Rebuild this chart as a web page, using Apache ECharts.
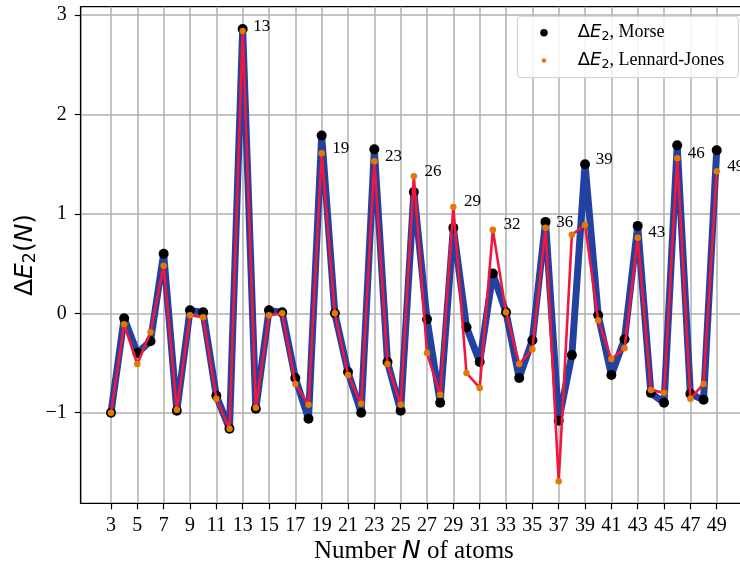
<!DOCTYPE html>
<html><head><meta charset="utf-8">
<script src="https://cdn.jsdelivr.net/npm/echarts@6/dist/echarts.min.js"></script>
<style>html,body{margin:0;padding:0;background:#fff}#c{width:740px;height:566px}</style>
</head><body><div id="c"></div><script>
const atoms = [3,4,5,6,7,8,9,10,11,12,13,14,15,16,17,18,19,20,21,22,23,24,25,26,27,28,29,30,31,32,33,34,35,36,37,38,39,40,41,42,43,44,45,46,47,48,49];
const morse = [-1.00,-0.05,-0.40,-0.28,0.60,-0.98,0.03,0.01,-0.83,-1.16,2.86,-0.96,0.03,0.01,-0.65,-1.06,1.79,0.00,-0.59,-1.00,1.65,-0.49,-0.98,1.22,-0.06,-0.90,0.86,-0.14,-0.49,0.40,0.01,-0.65,-0.27,0.92,-1.08,-0.42,1.50,-0.02,-0.62,-0.26,0.88,-0.80,-0.90,1.69,-0.81,-0.87,1.64];
const lennardJones = [-1.00,-0.11,-0.51,-0.19,0.48,-0.97,-0.02,-0.04,-0.86,-1.16,2.84,-0.95,-0.02,0.00,-0.71,-0.92,1.61,0.00,-0.62,-0.91,1.53,-0.51,-0.92,1.38,-0.40,-0.82,1.07,-0.60,-0.75,0.84,0.01,-0.51,-0.36,0.86,-1.69,0.79,0.89,-0.07,-0.46,-0.35,0.76,-0.77,-0.80,1.56,-0.86,-0.71,1.43];
const peakAtomsLJ = [13,19,23,26,29,32,36,43,46,49];
const peakAtomsMorse = [39];
const xTicks = [3,5,7,9,11,13,15,17,19,21,23,25,27,29,31,33,35,37,39,41,43,45,47,49];
const yTicks = [-1,0,1,2,3];

const SERIF = 'Liberation Serif';
const SANS = 'DejaVu Sans';

const mathRich = (size, spacer) => ({
  d: {fontFamily: SANS, fontSize: size, color: '#000'},
  e: {fontFamily: SANS, fontStyle: 'italic', fontSize: size, color: '#000'},
  s: {fontFamily: SANS, fontSize: size * 0.7, color: '#000', padding: [size * 0.45, 0, 0, 0]},
  t: {fontFamily: SERIF, fontSize: size, color: '#000'},
  sp: {fontFamily: SERIF, fontSize: size, width: spacer || 0, color: '#000'}
});

const peakLabel = (dist) => ({position: 'right', distance: dist, offset: [0, -5], formatter: p => String(p.value[0]),
  fontFamily: SERIF, fontSize: 17, color: '#000'});

const chart = echarts.init(document.getElementById('c'), null, {renderer: 'canvas'});
chart.setOption({
  animation: false,
  backgroundColor: '#fff',
  grid: {left: 80.7, top: 6.7, width: 666.3, height: 496.6, show: true, borderColor: '#000', borderWidth: 1.2,
    backgroundColor: 'transparent', containLabel: false, outerBoundsMode: 'none'},
  xAxis: {
    type: 'value', min: 0.7, max: 51.3,
    axisLine: {show: true, onZero: false, lineStyle: {color: '#000', width: 1.2}},
    axisTick: {show: true, customValues: xTicks, length: 6, lineStyle: {color: '#000', width: 1.2}},
    axisLabel: {customValues: xTicks, fontFamily: SERIF, fontSize: 20, color: '#000', margin: 12},
    splitLine: {show: true, lineStyle: {color: '#b0b0b0', width: 1.5}},
    name: '{t|Number }{e|N}{t| of atoms}', nameLocation: 'middle', nameGap: 36, nameMoveOverlap: false,
    nameTextStyle: {rich: mathRich(25)}
  },
  yAxis: {
    type: 'value', min: -1.911, max: 3.085,
    axisLine: {show: true, onZero: false, lineStyle: {color: '#000', width: 1.2}},
    axisTick: {show: true, customValues: yTicks, length: 6, lineStyle: {color: '#000', width: 1.2}},
    axisLabel: {customValues: yTicks, fontFamily: SERIF, fontSize: 20, color: '#000', margin: 14,
      formatter: v => (v < 0 ? '\u2212' + Math.abs(v) : String(v))},
    splitLine: {show: true, lineStyle: {color: '#b0b0b0', width: 1.5}},
    name: '{d|Δ}{e|E}{s|2}{d|(}{e|N}{d|)}', nameLocation: 'middle', nameGap: 41, nameRotate: 90, nameMoveOverlap: false,
    nameTextStyle: {rich: mathRich(25)}
  },
  legend: [
    {data: ['Morse'], selectedMode: false, left: 540.2, top: 21.7, padding: 0, itemWidth: 7.5, itemHeight: 7.5, itemGap: 0, icon: 'circle', z: 10,
      itemStyle: {opacity: 1},
      formatter: () => '{sp| }{d|Δ}{e|E}{s|2}{t|, Morse}', textStyle: {lineHeight: 22, rich: mathRich(18, 25)}},
    {data: ['Lennard-Jones'], selectedMode: false, left: 541.7, top: 49.5, padding: 0, itemWidth: 4.5, itemHeight: 4.5, itemGap: 0, icon: 'circle', z: 10,
      itemStyle: {opacity: 1},
      formatter: () => '{sp| }{d|Δ}{e|E}{s|2}{t|, Lennard-Jones}', textStyle: {lineHeight: 22, rich: mathRich(18, 26.5)}}
  ],
  graphic: [{type: 'rect', shape: {x: 517.3, y: 16.2, width: 221, height: 61.5, r: 4}, style: {fill: 'rgba(255,255,255,0.85)', stroke: '#cccccc', lineWidth: 1}, z: 9}],
  series: [
    {type: 'line', name: 'morseLine', data: atoms.map((n, i) => [n, morse[i]]), symbol: 'none', z: 1, silent: true,
      lineStyle: {color: '#2342a0', width: 7, join: 'round', cap: 'round'}},
    {type: 'scatter', name: 'Morse', z: 2, symbolSize: 10, itemStyle: {color: '#000', opacity: 1},
      data: atoms.map((n, i) => ({value: [n, morse[i]], label: {show: peakAtomsMorse.includes(n)}})),
      label: peakLabel(5.6)},
    {type: 'line', name: 'ljLine', data: atoms.map((n, i) => [n, lennardJones[i]]), symbol: 'none', z: 3, silent: true,
      lineStyle: {color: '#f2163f', width: 2.6, join: 'round', cap: 'round'}},
    {type: 'scatter', name: 'Lennard-Jones', z: 4, symbolSize: 6.5, itemStyle: {color: '#e07b00', opacity: 1},
      data: atoms.map((n, i) => ({value: [n, lennardJones[i]], label: {show: peakAtomsLJ.includes(n)}})),
      label: peakLabel(7.4)}
  ]
});
</script></body></html>
